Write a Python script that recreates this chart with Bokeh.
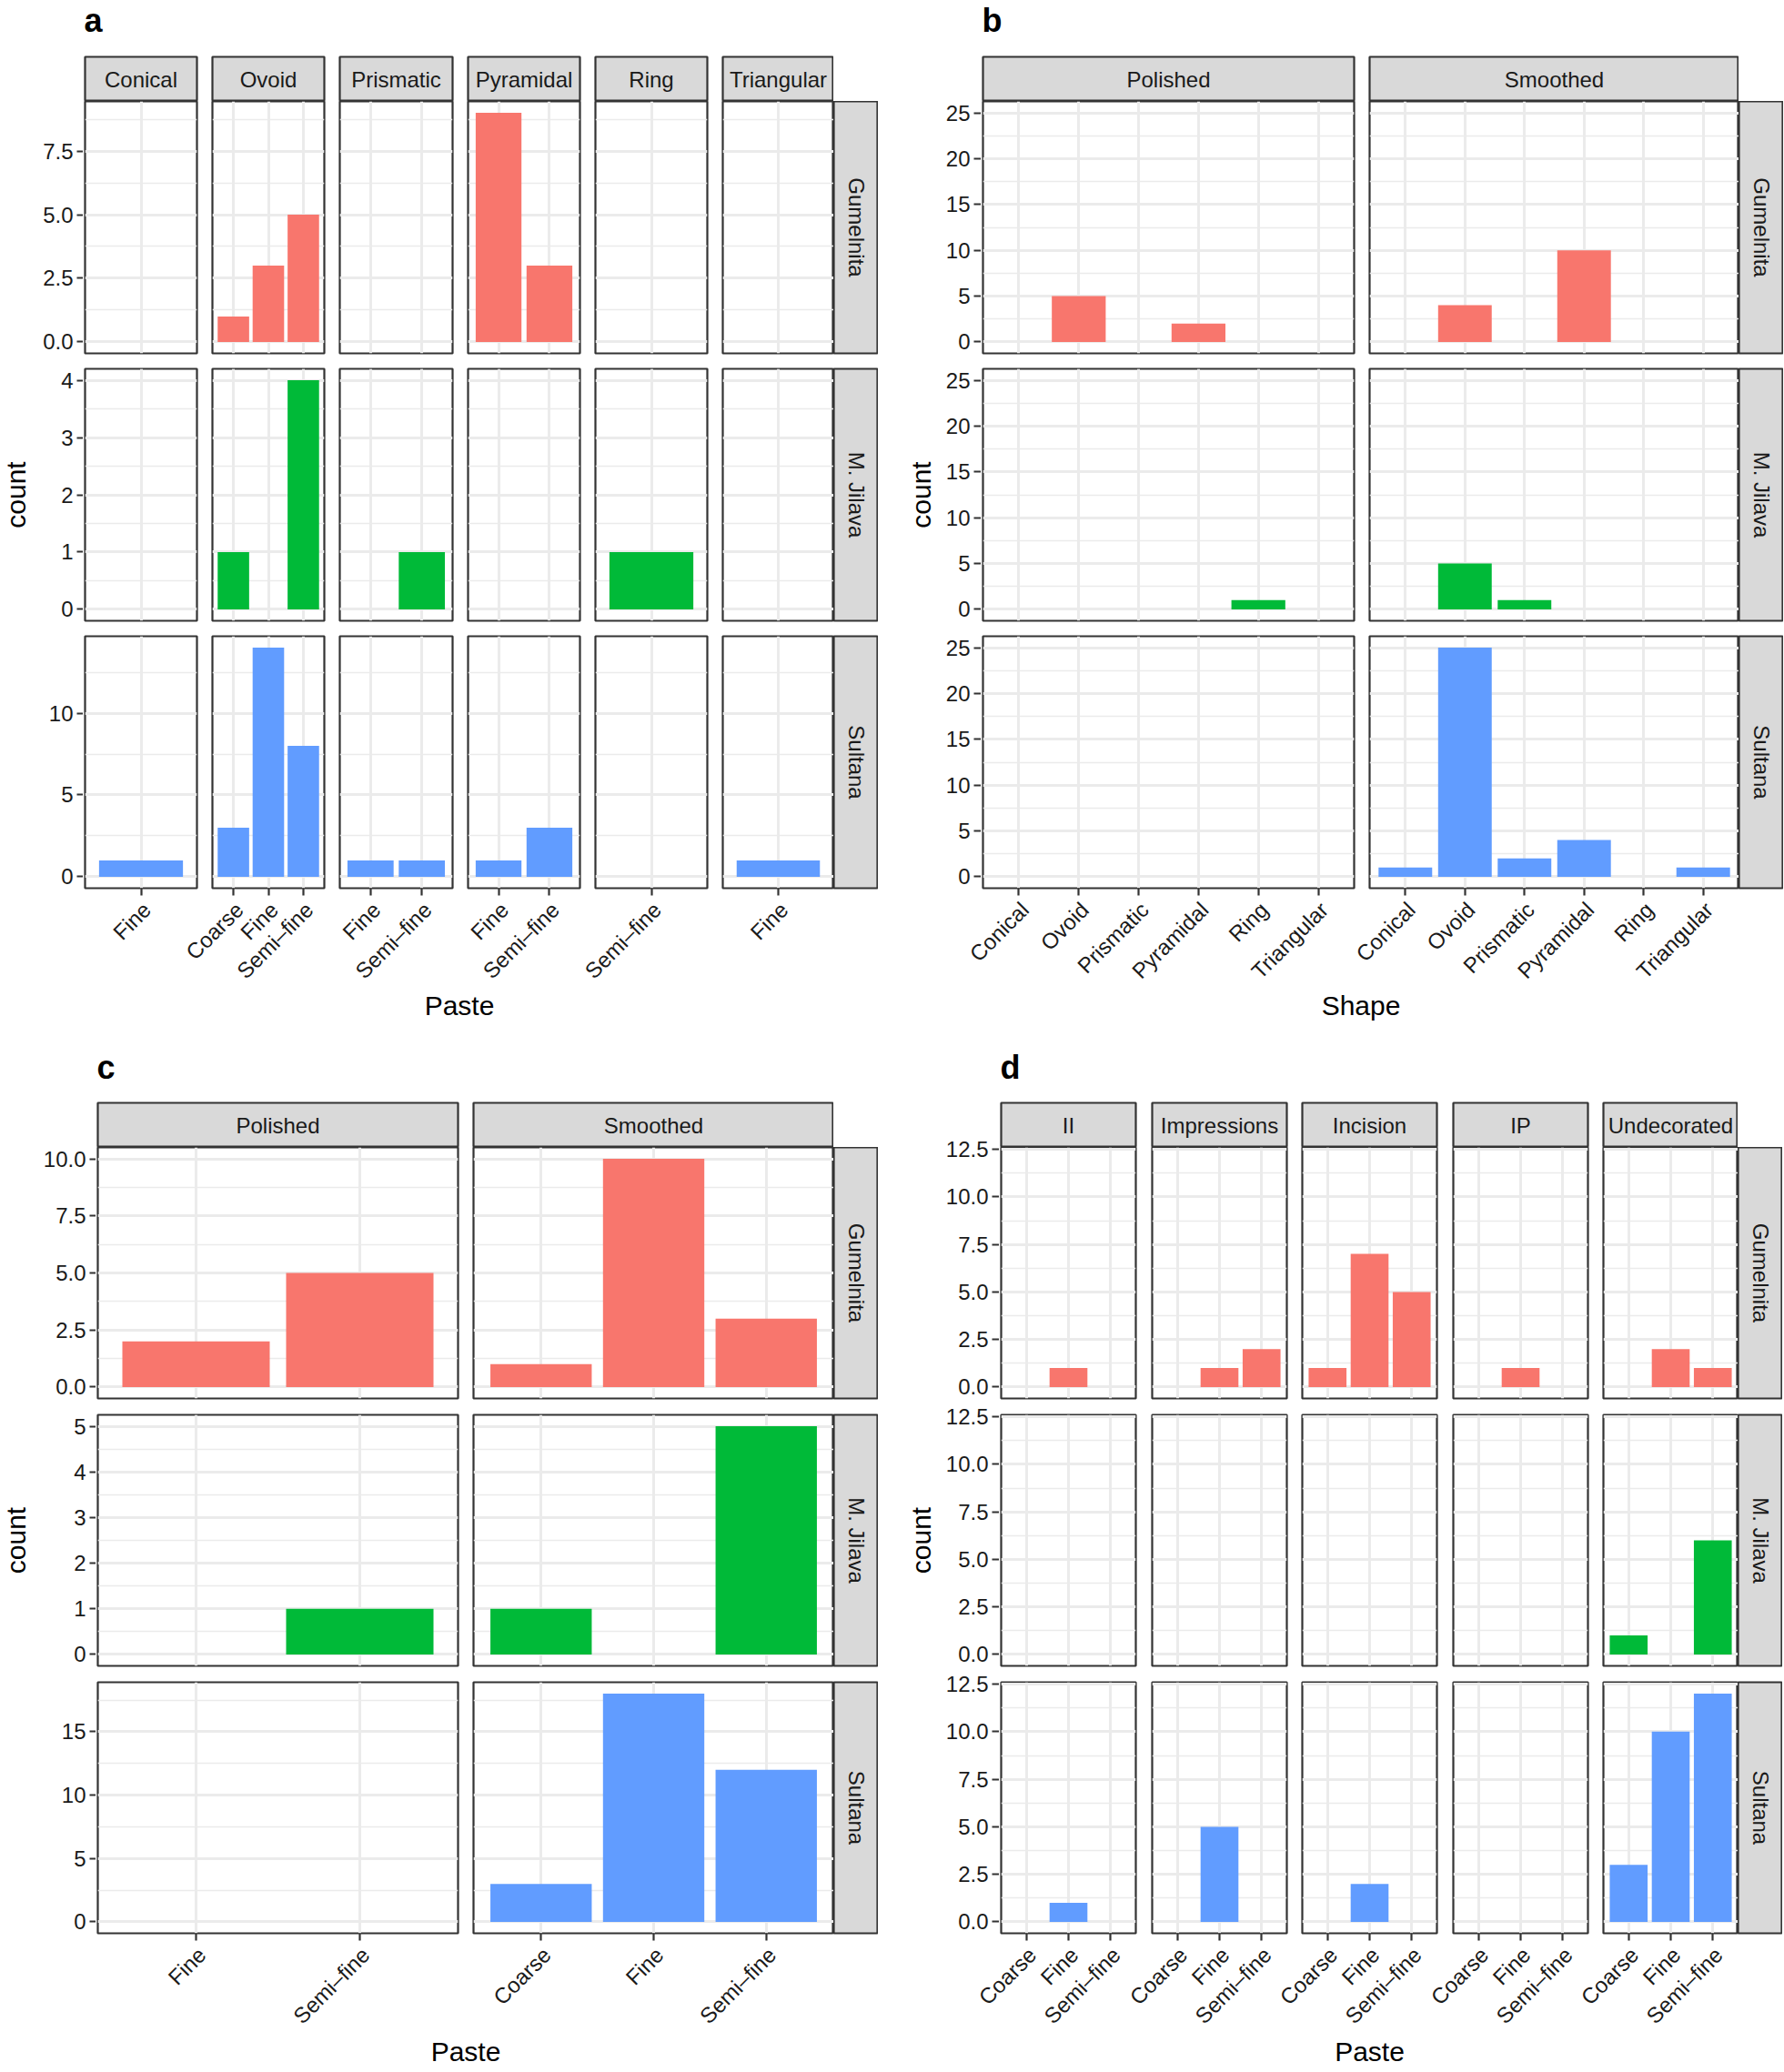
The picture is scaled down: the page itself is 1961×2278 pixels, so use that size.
import math
from bokeh.plotting import figure
from bokeh.models import Range1d, FixedTicker, Grid, LinearAxis
from bokeh.layouts import row, column
from bokeh.core.properties import value
from bokeh.embed import file_html
from bokeh.resources import INLINE

# ---------------- data ----------------
SITES = ["Gumelnita", "M. Jilava", "Sultana"]
SITE_COLORS = ["#F8766D", "#00BA38", "#619CFF"]

# (a) Shape (columns) x Paste (x, free) per site
A_SHAPES = ["Conical", "Ovoid", "Prismatic", "Pyramidal", "Ring", "Triangular"]
A_PASTE = [["Fine"], ["Coarse", "Fine", "Semi–fine"], ["Fine", "Semi–fine"],
           ["Fine", "Semi–fine"], ["Semi–fine"], ["Fine"]]
A_GUMELNITA = [[0], [1, 3, 5], [0, 0], [9, 3], [0], [0]]
A_JILAVA = [[0], [1, 0, 4], [0, 1], [0, 0], [1], [0]]
A_SULTANA = [[1], [3, 14, 8], [1, 1], [1, 3], [0], [1]]
A_YTICKS = [[0, 2.5, 5, 7.5], [0, 1, 2, 3, 4], [0, 5, 10]]
A_YLABELS = [["0.0", "2.5", "5.0", "7.5"], ["0", "1", "2", "3", "4"], ["0", "5", "10"]]

# (b) Finish (columns) x Shape (x)
B_FINISH = ["Polished", "Smoothed"]
B_SHAPES = ["Conical", "Ovoid", "Prismatic", "Pyramidal", "Ring", "Triangular"]
B_GUMELNITA = [[0, 5, 0, 2, 0, 0], [0, 4, 0, 10, 0, 0]]
B_JILAVA = [[0, 0, 0, 0, 1, 0], [0, 5, 1, 0, 0, 0]]
B_SULTANA = [[0, 0, 0, 0, 0, 0], [1, 25, 2, 4, 0, 1]]
B_YTICKS = [0, 5, 10, 15, 20, 25]
B_YLABELS = ["0", "5", "10", "15", "20", "25"]

# (c) Finish (columns) x Paste (x, free)
C_FINISH = ["Polished", "Smoothed"]
C_PASTE = [["Fine", "Semi–fine"], ["Coarse", "Fine", "Semi–fine"]]
C_GUMELNITA = [[2, 5], [1, 10, 3]]
C_JILAVA = [[0, 1], [1, 0, 5]]
C_SULTANA = [[0, 0], [3, 18, 12]]
C_YTICKS = [[0, 2.5, 5, 7.5, 10], [0, 1, 2, 3, 4, 5], [0, 5, 10, 15]]
C_YLABELS = [["0.0", "2.5", "5.0", "7.5", "10.0"], ["0", "1", "2", "3", "4", "5"],
             ["0", "5", "10", "15"]]

# (d) Decoration (columns) x Paste (x)
D_DECOR = ["II", "Impressions", "Incision", "IP", "Undecorated"]
D_PASTE = ["Coarse", "Fine", "Semi–fine"]
D_GUMELNITA = [[0, 1, 0], [0, 1, 2], [1, 7, 5], [0, 1, 0], [0, 2, 1]]
D_JILAVA = [[0, 0, 0], [0, 0, 0], [0, 0, 0], [0, 0, 0], [1, 0, 6]]
D_SULTANA = [[0, 1, 0], [0, 5, 0], [0, 2, 0], [0, 0, 0], [3, 10, 12]]
D_YTICKS = [0, 2.5, 5, 7.5, 10, 12.5]
D_YLABELS = ["0.0", "2.5", "5.0", "7.5", "10.0", "12.5"]

# ---------------- style ----------------
FONT = "Liberation Sans"
STRIP_FILL = "#D9D9D9"
DARK = "#333333"
GRIDC = "#EBEBEB"
STRIP_TXT = "#1A1A1A"
TICK_TXT = "#1A1A1A"
OUTLINE_W = 2.2
TICK_W = 2.2
MAJOR_W = 3.0
MINOR_W = 1.5
TICK_BORDER = 9
PAD = 2        # white margin kept round each panel so its full outline shows
LAB_DX = -3    # small pixel nudge of the rotated tick-label layer


def base_fig(w, h, bl=0, br=0, bt=0, bb=0, xr=None, yr=None):
    p = figure(width=w, height=h,
               x_range=xr if xr is not None else Range1d(0, 1),
               y_range=yr if yr is not None else Range1d(0, 1),
               x_axis_type=None, y_axis_type=None, tools="",
               toolbar_location=None, output_backend="svg",
               min_border_left=bl, min_border_right=br,
               min_border_top=bt, min_border_bottom=bb)
    p.outline_line_color = None
    p.background_fill_color = "white"
    p.border_fill_color = "white"
    return p


def text_fig(w, h, txt, x, y_from_top, size, angle=0.0, align="center",
             baseline="middle", bold=False, color="black"):
    p = base_fig(w, h, xr=Range1d(0, w), yr=Range1d(0, h))
    p.text(x=[x], y=[h - y_from_top], text=[txt], angle=angle,
           text_align=align, text_baseline=baseline,
           text_font=value(FONT), text_font_size=f"{size}px",
           text_font_style="bold" if bold else "normal", text_color=color)
    return p


def strip_fig(fw, fh, txt, bl, br, bt, bb, vertical=False):
    p = base_fig(fw + bl + br, fh + bt + bb, bl, br, bt, bb,
                 Range1d(0, fw), Range1d(0, fh))
    p.background_fill_color = STRIP_FILL
    p.outline_line_color = DARK
    p.outline_line_width = OUTLINE_W
    p.text(x=[fw / 2], y=[fh / 2], text=[txt],
           angle=-math.pi / 2 if vertical else 0.0,
           text_align="center", text_baseline="middle",
           text_font=value(FONT), text_font_size="24px", text_color=STRIP_TXT)
    return p


def style_axis(ax):
    ax.axis_line_color = None
    ax.major_tick_line_color = DARK
    ax.major_tick_line_width = TICK_W
    ax.major_tick_out = 8
    ax.major_tick_in = 0
    ax.minor_tick_line_color = None
    ax.major_label_text_font = FONT
    ax.major_label_text_font_size = "24px"
    ax.major_label_text_color = TICK_TXT
    ax.major_label_standoff = 6


def y_ticker(yticks):
    step = yticks[1] - yticks[0]
    return FixedTicker(ticks=yticks, minor_ticks=[t + step / 2 for t in yticks])


def yaxis_fig(width, fh, bt, bb, ymax, yticks, ylabels):
    # a 1px-wide frame carrying only the left axis (same y scale as the row)
    p = base_fig(width, fh + bt + bb, width - 1, 0, bt, bb,
                 Range1d(0, 1), Range1d(-0.05 * ymax, 1.05 * ymax))
    ax = LinearAxis(ticker=y_ticker(yticks),
                    major_label_overrides={t: lab for t, lab in zip(yticks, ylabels)})
    style_axis(ax)
    ax.major_tick_out = 7
    ax.major_tick_in = 1
    ax.major_label_standoff = 4
    p.add_layout(ax, "left")
    return p


def panel_fig(fw, fh, bl, br, bt, bb, xcats, vals, ymax, yticks, show_x, color):
    n_x = len(xcats)
    p = base_fig(fw + bl + br, fh + bt + bb, bl, br, bt, bb,
                 Range1d(0.4, n_x + 0.6), Range1d(-0.05 * ymax, 1.05 * ymax))
    p.outline_line_color = DARK
    p.outline_line_width = OUTLINE_W
    xt = FixedTicker(ticks=list(range(1, n_x + 1)), minor_ticks=[])
    yt = y_ticker(yticks)
    p.add_layout(Grid(dimension=0, ticker=xt, grid_line_color=GRIDC,
                      grid_line_width=MAJOR_W))
    p.add_layout(Grid(dimension=1, ticker=yt, grid_line_color=GRIDC,
                      grid_line_width=MAJOR_W, minor_grid_line_color=GRIDC,
                      minor_grid_line_width=MINOR_W))
    xs = [i + 1 for i, v in enumerate(vals) if v > 0]
    tops = [v for v in vals if v > 0]
    if xs:
        p.vbar(x=xs, top=tops, bottom=0, width=0.9, fill_color=color,
               line_color=None)
    if show_x:
        # tick marks only; the rotated labels are drawn in the label strip below
        ax = LinearAxis(ticker=xt,
                        major_label_overrides={i + 1: "" for i in range(n_x)})
        style_axis(ax)
        ax.major_label_text_font_size = "0px"
        ax.major_label_standoff = 0
        p.add_layout(ax, "below")
    return p


def label_fig(g, xcats, nc, xtitle):
    W, H = g["inner_w"], g["label_h"]
    p = base_fig(W, H, xr=Range1d(0, W), yr=Range1d(0, H))
    lefts, widths = g["lefts"], g["widths"]
    ranges = {}
    for k in range(nc):
        cats = xcats[k] if isinstance(xcats[0], list) else xcats
        n = len(cats)
        scale = (n + 0.2) / widths[k]
        start = 0.4 - (lefts[k] + LAB_DX) * scale
        ranges[f"c{k}"] = Range1d(start, start + W * scale)
    p.extra_x_ranges = ranges
    for k in range(nc):
        cats = xcats[k] if isinstance(xcats[0], list) else xcats
        n = len(cats)
        p.text(x=list(range(1, n + 1)), y=[H - g["lab_anchor"]] * n, text=cats,
               x_range_name=f"c{k}", angle=math.pi / 4, text_align="right",
               text_baseline="top", text_font=value(FONT), text_font_size="24px",
               text_color=TICK_TXT)
    p.text(x=[g["title_x"]], y=[H - g["title_c"]], text=[xtitle],
           text_align="center", text_baseline="middle", text_font=value(FONT),
           text_font_size="30px", text_color="black")
    return p


def build_block(g, tag, col_names, xcats, values, yticks, ylabels, free_y, xtitle):
    W = g["inner_w"]
    nc = len(col_names)
    lefts, widths = g["lefts"], g["widths"]
    fh, gap = g["frame_h"], g["gap"]
    # horizontal borders of each column figure (grid starts PAD px left of panel 0)
    borders = []
    for k in range(nc):
        bl = PAD
        br = lefts[k + 1] - (lefts[k] + widths[k]) - PAD if k < nc - 1 else 0
        borders.append((bl, br))

    header = text_fig(W, g["header_h"] - PAD, tag, g["tag_x"], g["tag_c"], 36,
                      align="left", baseline="middle", bold=True)

    grid_rows = [row([strip_fig(widths[k], g["strip_h"], col_names[k],
                                borders[k][0], borders[k][1], PAD, 0)
                      for k in range(nc)])]
    gmax = max(max(max(v) for v in rv) for rv in values)
    ax_w = lefts[0] - PAD
    axis_col = [base_fig(ax_w, PAD + g["strip_h"] - g["ax_top0"])]
    for r in range(3):
        bt = 0 if r == 0 else PAD
        bb = TICK_BORDER if r == 2 else gap - PAD
        ymax = max(max(v) for v in values[r]) if free_y else gmax
        yt = yticks[r] if free_y else yticks
        yl = ylabels[r] if free_y else ylabels
        figs = []
        for k in range(nc):
            cats = xcats[k] if isinstance(xcats[0], list) else xcats
            figs.append(panel_fig(widths[k], fh, borders[k][0], borders[k][1], bt, bb,
                                  cats, values[r][k], ymax, yt, show_x=(r == 2),
                                  color=SITE_COLORS[r]))
        figs.append(strip_fig(g["rstrip_w"], fh, SITES[r], 0, 0, bt, bb, vertical=True))
        grid_rows.append(row(figs))
        a_bt = g["ax_top0"] if r == 0 else gap - 5
        a_bb = TICK_BORDER if r == 2 else 5
        axis_col.append(yaxis_fig(ax_w, fh, a_bt, a_bb, ymax, yt, yl))

    middle = row([column(axis_col), column(grid_rows)])
    inner = column([header, middle, label_fig(g, xcats, nc, xtitle)])
    total_h = (g["header_h"] + g["strip_h"] + 3 * fh + 2 * gap
               + TICK_BORDER + g["label_h"])
    cnt = text_fig(g["count_w"], total_h, "count", g["count_x"], g["count_c"], 30,
                   angle=math.pi / 2, align="center", baseline="middle")
    return row([cnt, inner])


TOP = dict(header_h=62, tag_c=22.4, strip_h=49, frame_h=277, gap=17, ax_top0=14,
           label_h=145, lab_anchor=1, title_c=120, count_c=543.5, rstrip_w=49)
BOT = dict(header_h=82, tag_c=43.4, strip_h=49, frame_h=276, gap=18, ax_top0=14,
           label_h=143, lab_anchor=1, title_c=121, count_c=563, rstrip_w=49)

gA = dict(TOP, inner_w=946, count_w=44, count_x=17, tag_x=48, title_x=460.5,
          lefts=[49, 189, 329, 470, 610, 750], widths=[123, 123, 124, 123, 123, 122])
gB = dict(TOP, inner_w=928, count_w=42, count_x=21.7, tag_x=47, title_x=463.5,
          lefts=[48, 473], widths=[408, 406])
gC = dict(BOT, inner_w=946, count_w=44, count_x=17, tag_x=62, title_x=467.5,
          lefts=[63, 476], widths=[396, 396])
gD = dict(BOT, inner_w=928, count_w=42, count_x=21.7, tag_x=67, title_x=473,
          lefts=[68, 234, 399, 565, 730], widths=[148, 148, 148, 148, 148])

blockA = build_block(gA, "a", A_SHAPES, A_PASTE, [A_GUMELNITA, A_JILAVA, A_SULTANA],
                     A_YTICKS, A_YLABELS, True, "Paste")
blockB = build_block(gB, "b", B_FINISH, B_SHAPES, [B_GUMELNITA, B_JILAVA, B_SULTANA],
                     B_YTICKS, B_YLABELS, False, "Shape")
blockC = build_block(gC, "c", C_FINISH, C_PASTE, [C_GUMELNITA, C_JILAVA, C_SULTANA],
                     C_YTICKS, C_YLABELS, True, "Paste")
blockD = build_block(gD, "d", D_DECOR, D_PASTE, [D_GUMELNITA, D_JILAVA, D_SULTANA],
                     D_YTICKS, D_YLABELS, False, "Paste")

layout = column([row([blockA, blockB]), row([blockC, blockD])])

open("out.html", "w").write(file_html(layout, INLINE))
